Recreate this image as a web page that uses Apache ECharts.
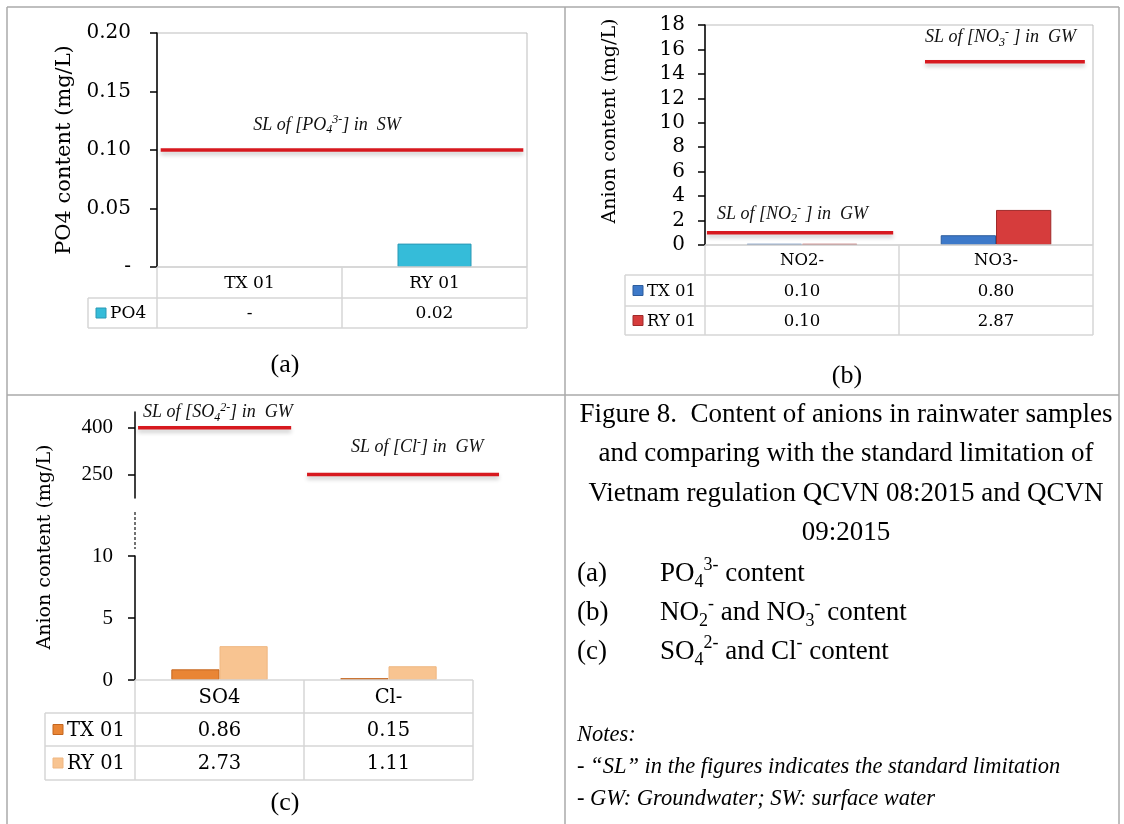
<!DOCTYPE html>
<html><head><meta charset="utf-8">
<script src="https://cdn.jsdelivr.net/npm/echarts@6/dist/echarts.min.js"></script>
<style>html,body{margin:0;padding:0;background:#fff}#c{width:1124px;height:824px}</style>
</head><body><div id="c"></div>
<script>
// ---------------- DATA ----------------
const catsA = ['TX 01', 'RY 01'];
const seriesNameA = 'PO4';
const po4 = [null, 0.02];
const limitA = [0.10];
const limitLabelA = ['SL of [PO{sub|4}{sup|3-}] in  SW'];

const catsB = ['NO2-', 'NO3-'];
const seriesNamesB = ['TX 01', 'RY 01'];
const tx01B = [0.10, 0.80];
const ry01B = [0.10, 2.87];
const limitB = [1, 15];
const limitLabelB = ['SL of [NO{sub|2}{sup|-} ] in  GW', 'SL of [NO{sub|3}{sup|-} ] in  GW'];

const catsC = ['SO4', 'Cl-'];
const seriesNamesC = ['TX 01', 'RY 01'];
const tx01C = [0.86, 0.15];
const ry01C = [2.73, 1.11];
const limitC = [400, 250];
const limitLabelC = ['SL of [SO{sub|4}{sup|2-}] in  GW', 'SL of [Cl{sup|-}] in  GW'];
const upperTicksC = [250, 400];

const axisTitleA = 'PO4 content (mg/L)';
const axisTitleB = 'Anion content (mg/L)';
const axisTitleC = 'Anion content (mg/L)';
const panelLabels = ['(a)', '(b)', '(c)'];
const captionLines = [
  'Figure 8.  Content of anions in rainwater samples',
  'and comparing with the standard limitation of',
  'Vietnam regulation QCVN 08:2015 and QCVN',
  '09:2015'
];
const captionItems = [
  ['(a)', 'PO{sub|4}{sup|3-} content'],
  ['(b)', 'NO{sub|2}{sup|-} and NO{sub|3}{sup|-} content'],
  ['(c)', 'SO{sub|4}{sup|2-} and Cl{sup|-} content']
];
const notes = [
  'Notes:',
  '- \u201cSL\u201d in the figures indicates the standard limitation',
  '- GW: Groundwater; SW: surface water'
];

// ---------------- LAYOUT / STYLE ----------------
const FF = '"Liberation Serif", "Times New Roman", serif';   // Times-like
const FC = '"DejaVu Serif", serif';                           // Cambria-like
const RED = '#d7191f';
const L = {
  a:  {left: 157, top: 33, right: 527, bottom: 267, legendLeft: 88, rowH: [31, 30], fs: 17},
  b:  {left: 705, top: 25, right: 1093, bottom: 245, legendLeft: 625, rowH: [30, 31, 29], fs: 16.5},
  cU: {left: 135, top: 412, right: 473, bottom: 498},
  cL: {left: 135, top: 556, right: 473, bottom: 680, legendLeft: 45, rowH: [33, 33, 34], fs: 19.5}
};
const spanA = [[0.01, 0.99]];
const labA = [[0.26, -25]];
const spanB = [[0.005, 0.485], [0.567, 0.979]];
const labB = [[0.031, -19], [0.567, -24]];
const spanC = [[0.009, 0.462], [0.509, 1.077]];
const labC = [[0.024, -15], [0.639, -27]];

function richFor(size, italic, fam) {
  const st = italic ? 'italic ' : '';
  const small = Math.round(size * 0.65);
  fam = fam || FF;
  return {
    sub: {font: st + small + 'px ' + fam, verticalAlign: 'bottom', lineHeight: small, fill: '#000'},
    sup: {font: st + small + 'px ' + fam, verticalAlign: 'top', lineHeight: small, fill: '#000'}
  };
}

const g = [];
function txt(x, y, text, size, o) {
  o = o || {};
  const fam = o.ff || FF;
  g.push({
    type: 'text', x: x, y: y, rotation: o.rot || 0, z: 10, silent: true,
    style: {
      text: text, fill: o.fill || '#000',
      font: (o.italic ? 'italic ' : '') + size + 'px ' + fam,
      textAlign: o.align || 'center', textVerticalAlign: 'middle',
      lineHeight: Math.round(size * 1.3),
      rich: richFor(size, o.italic, fam)
    }
  });
}
function line(x1, y1, x2, y2, color, w, dash) {
  g.push({type: 'line', z: 9, silent: true, shape: {x1, y1, x2, y2},
    style: {stroke: color, lineWidth: w, lineDash: dash || null}});
}
function rect(x, y, w, h, fill, stroke) {
  g.push({type: 'rect', z: 10, silent: true, shape: {x, y, width: w, height: h},
    style: {fill: fill, stroke: stroke, lineWidth: 1}});
}
const fmt = v => (v == null ? '-' : v.toFixed(2));

function table(gr, cats, rows) {
  const lc = '#d6d6d6';
  const n = cats.length, cw = (gr.right - gr.left) / n;
  const yH = gr.bottom + gr.rowH[0];
  let yEnd = yH;
  rows.forEach((r, k) => { yEnd += gr.rowH[k + 1]; });
  line(gr.left, gr.bottom, gr.right, gr.bottom, lc, 1.5);
  for (let i = 0; i <= n; i++) line(gr.left + i * cw, gr.bottom, gr.left + i * cw, yEnd, lc, 1.5);
  cats.forEach((c, i) => txt(gr.left + (i + 0.5) * cw, gr.bottom + gr.rowH[0] / 2 + 1, c, gr.fs, {ff: FC}));
  let y = yH;
  rows.forEach((r, k) => {
    const h = gr.rowH[k + 1];
    line(gr.legendLeft, y, gr.right, y, lc, 1.5);
    rect(gr.legendLeft + 8, y + h / 2 - 5, 10, 10, r.color, r.border);
    txt(gr.legendLeft + 22, y + h / 2 + 1, r.name, gr.fs, {align: 'left', ff: FC});
    r.values.forEach((v, i) => txt(gr.left + (i + 0.5) * cw, y + h / 2 + 1, fmt(v), gr.fs, {ff: FC}));
    y += h;
  });
  line(gr.legendLeft, y, gr.right, y, lc, 1.5);
  line(gr.legendLeft, yH, gr.legendLeft, y, lc, 1.5);
}

const COL = {
  po4: ['#35bcd9', '#2b98b4'],
  txB: ['#3d79c9', '#2d5d9c'], ryB: ['#d63c3c', '#9f2a2a'],
  txC: ['#e98535', '#c4661f'], ryC: ['#f8c491', '#efb782']
};

// ---------- borders ----------
line(7, 7, 1119, 7, '#aaa', 1.5);
line(7, 7, 7, 824, '#aaa', 1.5);
line(1119, 7, 1119, 824, '#aaa', 1.5);
line(565, 7, 565, 824, '#aaa', 1.5);
line(7, 395, 1119, 395, '#aaa', 1.5);

// ---------- axis titles & panel labels ----------
txt(65, 150, axisTitleA, 21, {rot: Math.PI / 2, ff: FC});
txt(610, 121, axisTitleB, 19, {rot: Math.PI / 2, ff: FC});
txt(45, 547, axisTitleC, 19, {rot: Math.PI / 2, ff: FC});
txt(285, 365, panelLabels[0], 26);
txt(847, 376, panelLabels[1], 26);
txt(285, 803, panelLabels[2], 26);

// ---------- tables ----------
table(L.a, catsA, [{name: seriesNameA, color: COL.po4[0], border: COL.po4[1], values: po4}]);
table(L.b, catsB, [
  {name: seriesNamesB[0], color: COL.txB[0], border: COL.txB[1], values: tx01B},
  {name: seriesNamesB[1], color: COL.ryB[0], border: COL.ryB[1], values: ry01B}
]);
table(L.cL, catsC, [
  {name: seriesNamesC[0], color: COL.txC[0], border: COL.txC[1], values: tx01C},
  {name: seriesNamesC[1], color: COL.ryC[0], border: COL.ryC[1], values: ry01C}
]);
// broken-axis dashed segment
line(L.cU.left, 512, L.cU.left, 549, '#444', 1.5, [3, 2]);

// ---------- caption ----------
const capY = [415, 454, 494, 533];
captionLines.forEach((t, i) => txt(846, capY[i], t, 27));
const itemY = [574, 613, 652];
captionItems.forEach((it, i) => { txt(577, itemY[i], it[0], 27, {align: 'left'}); txt(660, itemY[i], it[1], 27, {align: 'left'}); });
const noteY = [735, 767, 799];
notes.forEach((t, i) => txt(577, noteY[i], t, 22.5, {align: 'left', italic: true}));

// ---------------- CHART ----------------
function limitSeries(xi, values, labels, spans, labs) {
  return {
    type: 'custom', xAxisIndex: xi, yAxisIndex: xi, clip: false, z: 5, silent: true,
    data: values.map((v, i) => [i, v]),
    renderItem: function (params, api) {
      const i = params.dataIndex;
      const cs = params.coordSys;
      const y = api.coord([0, api.value(1)])[1];
      const sp = spans[i], lb = labs[i];
      return {
        type: 'group', children: [
          {type: 'line', shape: {x1: cs.x + cs.width * sp[0], y1: y, x2: cs.x + cs.width * sp[1], y2: y},
           style: {stroke: RED, lineWidth: 3.5, shadowBlur: 4, shadowOffsetY: 3, shadowColor: 'rgba(0,0,0,0.22)'}},
          {type: 'text', x: cs.x + cs.width * lb[0], y: y + lb[1],
           style: {text: labels[i], fill: '#111', font: 'italic 18px ' + FF, textAlign: 'left',
                   textVerticalAlign: 'middle', lineHeight: 22, rich: richFor(18, true)}}
        ]
      };
    }
  };
}
function grid(k, show) {
  const o = L[k];
  return {left: o.left, top: o.top, width: o.right - o.left, height: o.bottom - o.top,
          show: !!show, borderColor: '#bdbdbd', borderWidth: 1, backgroundColor: 'transparent'};
}
function xAx(i, cats) {
  return {type: 'category', gridIndex: i, data: cats, axisLine: {show: false}, axisTick: {show: false},
          axisLabel: {show: false}, splitLine: {show: false}};
}
function yAx(i, o) {
  return Object.assign({
    type: 'value', gridIndex: i,
    axisLine: {show: true, lineStyle: {color: '#000', width: 1.5}},
    axisTick: {show: true, length: 7, lineStyle: {color: '#000', width: 1.5}},
    splitLine: {show: false}
  }, o);
}
const bar = (xi, name, data, col, gap) => ({
  type: 'bar', name: name, xAxisIndex: xi, yAxisIndex: xi, data: data, barGap: '0%', barCategoryGap: gap,
  itemStyle: {color: col[0], borderColor: col[1], borderWidth: 1}
});

const option = {
  animation: false,
  backgroundColor: '#fff',
  grid: [grid('a', true), grid('b', true), grid('cU'), grid('cL')],
  xAxis: [xAx(0, catsA), xAx(1, catsB), xAx(2, catsC), xAx(3, catsC)],
  yAxis: [
    yAx(0, {min: 0, max: 0.2, interval: 0.05,
      axisLabel: {color: '#000', fontSize: 20, fontFamily: FC, margin: 26,
                  formatter: v => (v === 0 ? '-' : v.toFixed(2))}}),
    yAx(1, {min: 0, max: 18, interval: 2,
      axisLabel: {color: '#000', fontSize: 20, fontFamily: FC, margin: 20}}),
    yAx(2, {min: 175, max: 450,
      axisTick: {show: true, length: 7, lineStyle: {color: '#000', width: 1.5}, customValues: upperTicksC},
      axisLabel: {color: '#000', fontSize: 21, fontFamily: FF, margin: 22, customValues: upperTicksC}}),
    yAx(3, {min: 0, max: 10, interval: 5,
      axisLabel: {color: '#000', fontSize: 21, fontFamily: FF, margin: 22}})
  ],
  series: [
    bar(0, seriesNameA, po4, COL.po4, '60%'),
    limitSeries(0, limitA, limitLabelA, spanA, labA),
    bar(1, seriesNamesB[0], tx01B, COL.txB, '43%'),
    bar(1, seriesNamesB[1], ry01B, COL.ryB, '43%'),
    limitSeries(1, limitB, limitLabelB, spanB, labB),
    limitSeries(2, limitC, limitLabelC, spanC, labC),
    bar(3, seriesNamesC[0], tx01C, COL.txC, '43%'),
    bar(3, seriesNamesC[1], ry01C, COL.ryC, '43%')
  ],
  graphic: {elements: g}
};
const chart = echarts.init(document.getElementById('c'), null, {renderer: 'canvas'});
chart.setOption(option);
</script></body></html>
